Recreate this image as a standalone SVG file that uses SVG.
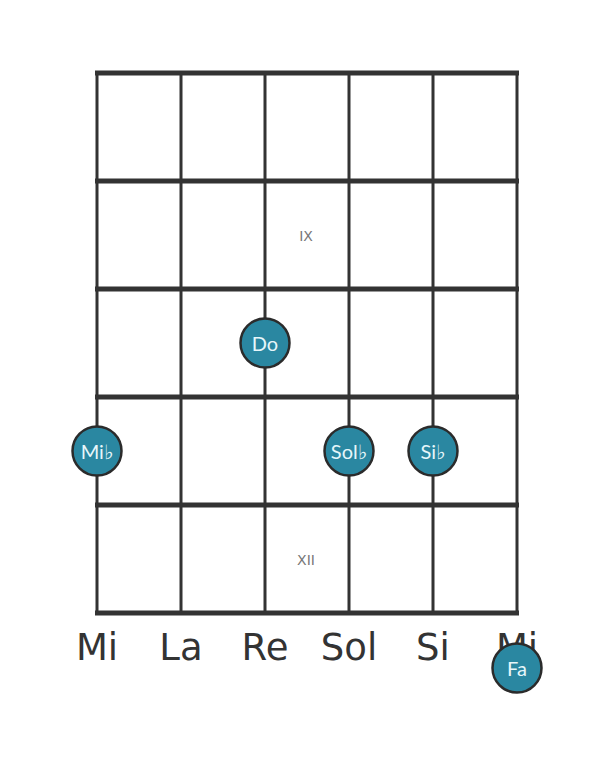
<svg xmlns="http://www.w3.org/2000/svg" width="614" height="765" viewBox="0 0 614 765">
<style>
.fret{stroke:#333;stroke-width:5}
.str{stroke:#333;stroke-width:3}
.note circle{fill:#2a87a1;stroke:#2b2b2b;stroke-width:2.5}
.note text{font-family:Lato,"DejaVu Sans",sans-serif;font-size:20px;fill:#e6f6fa;text-anchor:middle;dominant-baseline:central}
.sname{font-family:"DejaVu Sans",sans-serif;font-size:37px;fill:#333;text-anchor:middle}
.fnum{font-family:"DejaVu Sans",sans-serif;font-size:14px;fill:#777;text-anchor:middle}
</style>
<rect width="614" height="765" fill="#fff"/>
<g id="grid">
<line class="str" x1="97" y1="73" x2="97" y2="613"/>
<line class="str" x1="181" y1="73" x2="181" y2="613"/>
<line class="str" x1="265" y1="73" x2="265" y2="613"/>
<line class="str" x1="349" y1="73" x2="349" y2="613"/>
<line class="str" x1="433" y1="73" x2="433" y2="613"/>
<line class="str" x1="517" y1="73" x2="517" y2="613"/>
<line class="fret" x1="95" y1="73" x2="519" y2="73"/>
<line class="fret" x1="95" y1="181" x2="519" y2="181"/>
<line class="fret" x1="95" y1="289" x2="519" y2="289"/>
<line class="fret" x1="95" y1="397" x2="519" y2="397"/>
<line class="fret" x1="95" y1="505" x2="519" y2="505"/>
<line class="fret" x1="95" y1="613" x2="519" y2="613"/>
</g>
<g id="fret-labels">
<text class="fnum" x="306" y="241">IX</text>
<text class="fnum" x="306" y="565">XII</text>
</g>
<g id="string-names">
<text class="sname" x="97" y="660">Mi</text>
<text class="sname" x="181" y="660">La</text>
<text class="sname" x="265" y="660">Re</text>
<text class="sname" x="349" y="660">Sol</text>
<text class="sname" x="433" y="660">Si</text>
<text class="sname" x="517" y="660">Mi</text>
</g>
<g id="note-do" class="note"><circle cx="265" cy="343" r="24.5"/><text x="265" y="343">Do</text></g>
<g id="note-mib" class="note"><circle cx="97" cy="451" r="24.5"/><text x="97" y="451">Mi♭</text></g>
<g id="note-solb" class="note"><circle cx="349" cy="451" r="24.5"/><text x="349" y="451">Sol♭</text></g>
<g id="note-sib" class="note"><circle cx="433" cy="451" r="24.5"/><text x="433" y="451">Si♭</text></g>
<g id="note-fa" class="note"><circle cx="517" cy="668" r="24.5"/><text x="517" y="668">Fa</text></g>
</svg>
